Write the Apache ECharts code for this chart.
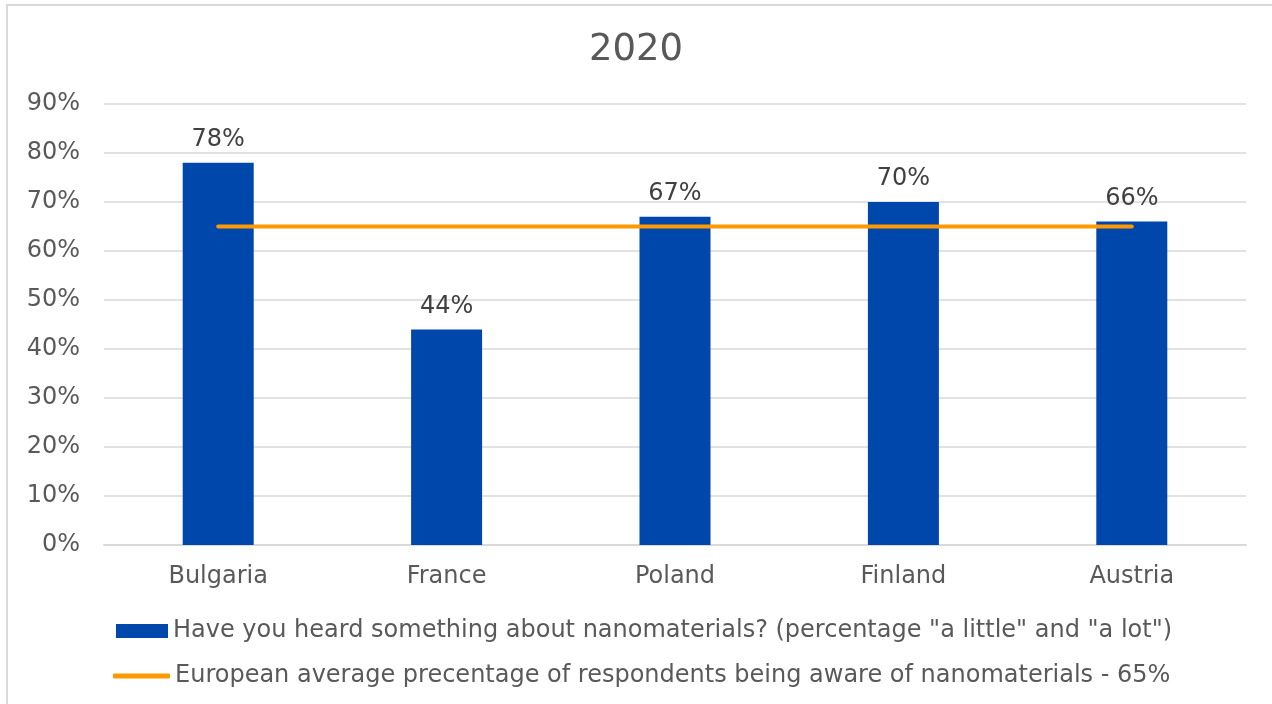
<!DOCTYPE html>
<html>
<head>
<meta charset="utf-8">
<script src="https://cdn.jsdelivr.net/npm/echarts@6/dist/echarts.min.js"></script>
<style>
  html, body { margin: 0; padding: 0; background: #fff; }
  #chart { width: 1272px; height: 704px; }
</style>
</head>
<body>
<div id="chart"></div>
<script>
// Survey awareness of nanomaterials by country, 2020
const titleText = '2020';
const countries = ['Bulgaria', 'France', 'Poland', 'Finland', 'Austria'];
const heardValues = [78, 44, 67, 70, 66];
const europeanAverage = [65, 65, 65, 65, 65];
const barName = 'Have you heard something about nanomaterials? (percentage "a little" and "a lot")';
const lineName = 'European average precentage of respondents being aware of nanomaterials - 65%';
const yTicks = { min: 0, max: 90, interval: 10 };

const FONT = '"DejaVu Sans"';
const TEXT = '#595959';
const SIZE = 24;

const chart = echarts.init(document.getElementById('chart'), null, { renderer: 'canvas' });

chart.setOption({
  backgroundColor: '#ffffff',
  animation: false,
  textStyle: { fontFamily: FONT },
  title: {
    text: titleText,
    left: 'center',
    top: 27,
    textStyle: { color: TEXT, fontFamily: FONT, fontSize: 37, fontWeight: 'normal' }
  },
  graphic: [{
    type: 'rect',
    shape: { x: 7, y: 5, width: 1300, height: 760 },
    style: { fill: 'none', stroke: '#d9d9d9', lineWidth: 2 },
    silent: true,
    z: -10
  }],
  legend: [{
    data: [barName],
    orient: 'vertical',
    left: 111,
    top: 614,
    icon: 'rect',
    itemWidth: 52,
    itemHeight: 14,
    textStyle: { color: TEXT, fontFamily: FONT, fontSize: SIZE }
  }, {
    data: [lineName],
    orient: 'vertical',
    left: 108,
    top: 659,
    icon: 'roundRect',
    itemWidth: 57,
    itemHeight: 5,
    textStyle: { color: TEXT, fontFamily: FONT, fontSize: SIZE }
  }],
  grid: { left: 104, right: 26, top: 104, bottom: 159, containLabel: false },
  xAxis: {
    type: 'category',
    data: countries,
    axisLine: { lineStyle: { color: '#d9d9d9', width: 2 } },
    axisTick: { show: false },
    axisLabel: { color: TEXT, fontFamily: FONT, fontSize: SIZE, margin: 20 }
  },
  yAxis: {
    type: 'value',
    min: yTicks.min,
    max: yTicks.max,
    interval: yTicks.interval,
    axisLine: { show: false },
    axisTick: { show: false },
    splitLine: { lineStyle: { color: '#d9d9d9', width: 1.5 } },
    axisLabel: { color: TEXT, fontFamily: FONT, fontSize: SIZE, margin: 24, formatter: '{value}%' }
  },
  series: [{
    name: barName,
    type: 'bar',
    data: heardValues,
    barWidth: 71,
    itemStyle: { color: '#0047ab' },
    label: {
      show: true,
      position: 'top',
      distance: 11,
      formatter: '{c}%',
      color: '#404040',
      fontFamily: FONT,
      fontSize: SIZE
    },
    z: 2
  }, {
    name: lineName,
    type: 'line',
    data: europeanAverage,
    symbol: 'none',
    lineStyle: { color: '#ff9900', width: 4, cap: 'round' },
    itemStyle: { color: '#ff9900' },
    z: 3
  }]
});
</script>
</body>
</html>
